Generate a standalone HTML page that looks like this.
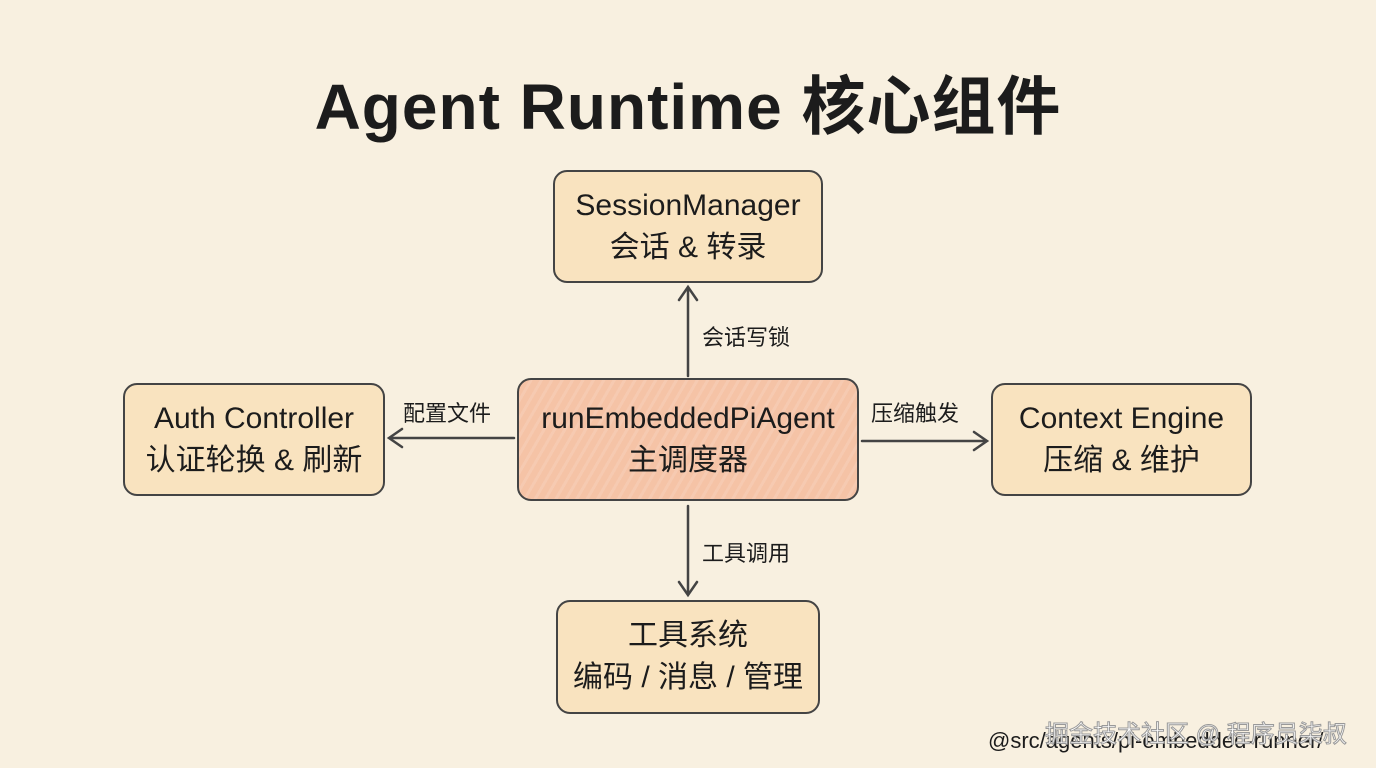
<!DOCTYPE html>
<html><head><meta charset="utf-8"><style>
*{margin:0;padding:0;box-sizing:border-box}
body{width:1376px;height:768px;background:#f8f0e0;position:relative;overflow:hidden;font-family:"Liberation Sans","Noto Sans CJK SC",sans-serif;color:#1c1c1c}
.t{position:absolute;left:0;width:1376px;top:56px;text-align:center;font-size:64px;font-weight:bold;letter-spacing:1px}
.n{position:absolute;border:2.5px solid #444;border-radius:14px;background:#f9e3bf;text-align:center;display:flex;flex-direction:column;justify-content:center;font-size:30px;line-height:42px}
.c{background:#f5c3a6;background-image:repeating-linear-gradient(120deg,rgba(255,255,255,.12) 0 3px,transparent 3px 9px)}
.l{position:absolute;font-size:22px}
svg{position:absolute;left:0;top:0}
</style></head><body>
<div class="t">Agent Runtime 核心组件</div>
<svg width="1376" height="768" stroke="#444" stroke-width="2.5" fill="none" stroke-linecap="round">
<line x1="688" y1="376" x2="688" y2="288"/><polyline points="679,300 688,287 697,300"/>
<line x1="514" y1="438" x2="390" y2="438"/><polyline points="402,429 389,438 402,447"/>
<line x1="862" y1="441" x2="986" y2="441"/><polyline points="974,432 987,441 974,450"/>
<line x1="688" y1="506" x2="688" y2="594"/><polyline points="679,582 688,595 697,582"/>
</svg>
<div class="n" style="left:553px;top:170px;width:270px;height:113px">SessionManager<br>会话 &amp; 转录</div>
<div class="n" style="left:123px;top:383px;width:262px;height:113px">Auth Controller<br>认证轮换 &amp; 刷新</div>
<div class="n c" style="left:517px;top:378px;width:342px;height:123px">runEmbeddedPiAgent<br>主调度器</div>
<div class="n" style="left:991px;top:383px;width:261px;height:113px">Context Engine<br>压缩 &amp; 维护</div>
<div class="n" style="left:556px;top:600px;width:264px;height:114px">工具系统<br>编码 / 消息 / 管理</div>
<div class="l" style="left:702px;top:320px">会话写锁</div>
<div class="l" style="left:403px;top:396px">配置文件</div>
<div class="l" style="left:871px;top:396px">压缩触发</div>
<div class="l" style="left:702px;top:536px">工具调用</div>
<div class="l" style="left:988px;top:728px;font-size:22px">@src/agents/pi-embedded-runner/</div>
<div class="l" style="left:1045px;top:714px;font-size:24px;color:#fff;-webkit-text-stroke:1px #999">掘金技术社区 @ 程序员柒叔</div>
</body></html>
